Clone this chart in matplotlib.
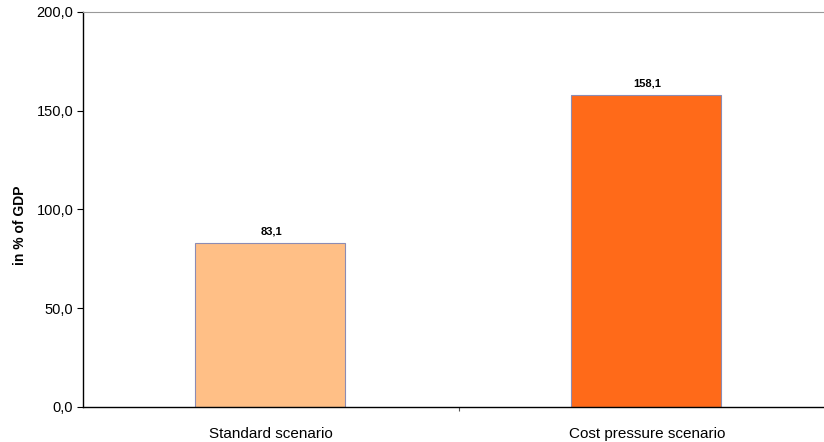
import numpy as np
import matplotlib.pyplot as plt
from matplotlib.ticker import FuncFormatter

plt.rcParams['font.family'] = ['Liberation Sans', 'DejaVu Sans']

categories = ["Standard scenario", "Cost pressure scenario"]
values = [83.1, 158.1]
colors = ["#FFBF86", "#FF6A19"]

fig = plt.figure(figsize=(8.24, 4.42), dpi=100)
ax = fig.add_axes([83 / 824, 35 / 442, 741 / 824, 395 / 442])

x = np.arange(len(categories))
ax.bar(x - 0.003, values, width=0.4, color=colors, edgecolor="#8C8CB4", linewidth=0.8, zorder=2)

for xi, v in zip(x, values):
    ax.text(xi, v + 3, f"{v:.1f}".replace(".", ","), ha="center", va="bottom",
            fontsize=8, fontweight="bold")

ax.set_xlim(-0.5, -0.5 + 741 / 376)
ax.set_ylim(0, 200)
ax.set_yticks(np.arange(0, 201, 50))
ax.yaxis.set_major_formatter(FuncFormatter(lambda v, p: f"{v:.1f}".replace(".", ",")))
ax.set_xticks([0.5])
ax.set_xticklabels([""])
ax.tick_params(axis="y", direction="out", length=4, labelsize=10.5, pad=3)
ax.tick_params(axis="x", direction="out", length=3, color="#555555")

for xi, c in zip(x, categories):
    ax.text(xi, -10, c, ha="center", va="top", fontsize=11, transform=ax.transData)

ax.set_ylabel("in % of GDP", fontsize=10, fontweight="bold")
ax.yaxis.set_label_coords(-0.076, 0.46)

ax.spines["right"].set_visible(False)
ax.spines["top"].set_color("#999999")
ax.spines["top"].set_linewidth(0.8)
ax.spines["left"].set_linewidth(1.0)
ax.spines["bottom"].set_linewidth(1.0)

fig.savefig("out.png", dpi=100)
